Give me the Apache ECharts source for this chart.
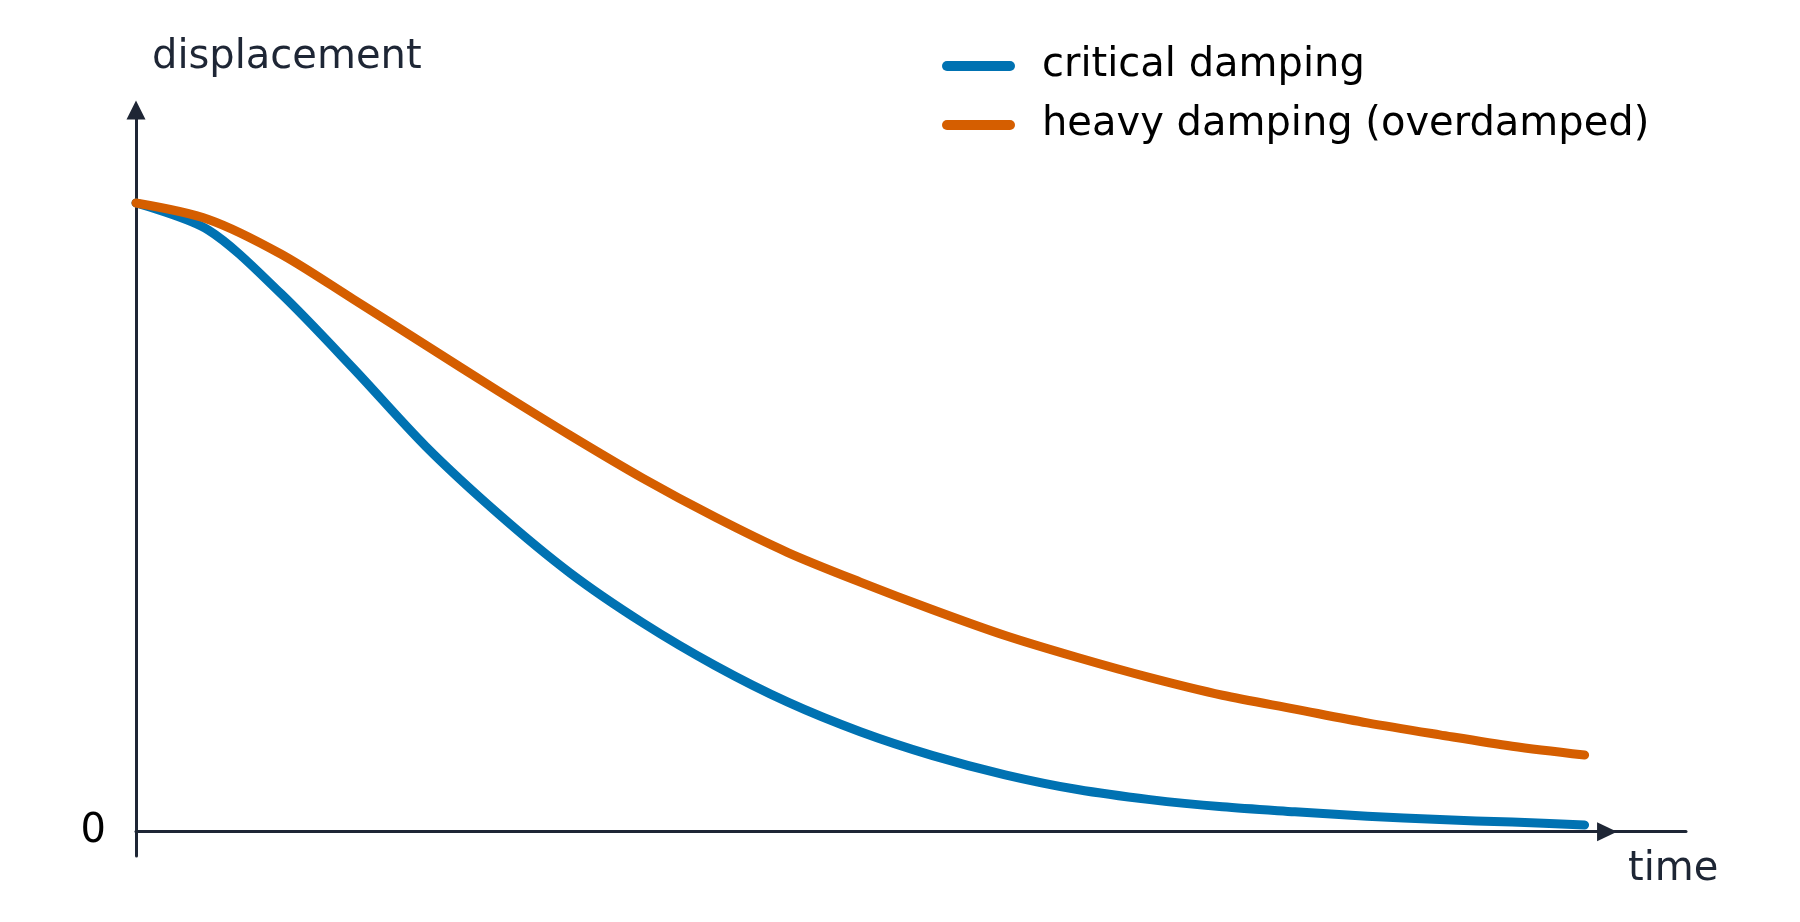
<!DOCTYPE html>
<html>
<head>
<meta charset="utf-8">
<title>damping</title>
<script src="https://cdn.jsdelivr.net/npm/echarts@6/dist/echarts.min.js"></script>
<style>
  html, body { margin: 0; padding: 0; background: #fff; }
  #chart { width: 1800px; height: 922px; }
</style>
</head>
<body>
<div id="chart"></div>
<script>
// values (time in arbitrary units, displacement normalised to 1)
var time = [0, 0.5, 1, 1.5, 2, 2.5, 3, 3.5, 4, 4.5, 5, 5.5, 6, 6.5, 7, 7.5, 8, 8.5, 9, 9.5, 10];
var criticalDisp = [1.0, 0.957, 0.856, 0.737, 0.613, 0.506, 0.411, 0.332, 0.264, 0.206, 0.159, 0.121, 0.0905, 0.067, 0.051, 0.0395, 0.0317, 0.0245, 0.0192, 0.0152, 0.0107];
var heavyDisp = [1.0, 0.974, 0.919, 0.847, 0.774, 0.701, 0.630, 0.562, 0.500, 0.444, 0.397, 0.353, 0.312, 0.277, 0.245, 0.217, 0.195, 0.173, 0.154, 0.136, 0.122];

var seriesNames = ['critical damping', 'heavy damping (overdamped)'];
var yTickValues = [0];
var arrowAt = 10.155; // where the arrow head sits on the time axis

var axisColor = '#1e2635';
var font = 'DejaVu Sans';

function pairs(xs, ys) {
  return xs.map(function (x, i) { return [x, ys[i]]; });
}

var pill = 'path://M5,0 L68,0 A5,5 0 0 1 68,10 L5,10 A5,5 0 0 1 5,0 Z';

var myChart = echarts.init(document.getElementById('chart'));
var option = {
  animation: false,
  title: [
    { text: 'displacement', left: 152, top: 38, padding: 0,
      textStyle: { fontFamily: font, fontSize: 40, fontWeight: 'normal', color: axisColor } },
    { text: 'time', left: 1628, top: 850, padding: 0,
      textStyle: { fontFamily: font, fontSize: 40, fontWeight: 'normal', color: axisColor } }
  ],
  legend: {
    orient: 'vertical',
    left: 942,
    top: 46,
    itemWidth: 73,
    itemHeight: 10,
    itemGap: 19,
    padding: 0,
    data: [
      { name: seriesNames[0], icon: pill },
      { name: seriesNames[1], icon: pill }
    ],
    textStyle: { fontFamily: font, fontSize: 40, color: '#000', padding: [0, 0, 0, 22] }
  },
  grid: { left: 136, right: 114, top: 110, bottom: 66, containLabel: false },
  xAxis: {
    type: 'value',
    min: 0,
    max: 10.7,
    axisLine: { onZero: true, lineStyle: { color: axisColor, width: 3 } },
    axisTick: { show: false },
    axisLabel: { show: false },
    splitLine: { show: false }
  },
  yAxis: {
    type: 'value',
    min: -0.0387,
    max: 1.148,
    axisLine: {
      show: true,
      symbol: ['none', 'triangle'],
      symbolSize: [19, 19],
      lineStyle: { color: axisColor, width: 3 }
    },
    axisTick: { show: false },
    axisLabel: {
      customValues: yTickValues,
      margin: 30,
      fontFamily: font,
      fontSize: 40,
      color: '#000',
      padding: [0, 0, 6, 0]
    },
    splitLine: { show: false }
  },
  series: [
    {
      name: seriesNames[0],
      type: 'line',
      data: pairs(time, criticalDisp),
      showSymbol: false,
      smooth: 0.3,
      color: '#0072b2',
      lineStyle: { width: 9, cap: 'round', join: 'round' },
      markPoint: {
        silent: true,
        symbol: 'triangle',
        symbolSize: [19, 20],
        symbolRotate: -90,
        itemStyle: { color: axisColor },
        label: { show: false },
        data: [{ coord: [arrowAt, 0] }]
      }
    },
    {
      name: seriesNames[1],
      type: 'line',
      data: pairs(time, heavyDisp),
      showSymbol: false,
      smooth: 0.3,
      color: '#d55e00',
      lineStyle: { width: 9, cap: 'round', join: 'round' }
    }
  ]
};
myChart.setOption(option);
</script>
</body>
</html>
